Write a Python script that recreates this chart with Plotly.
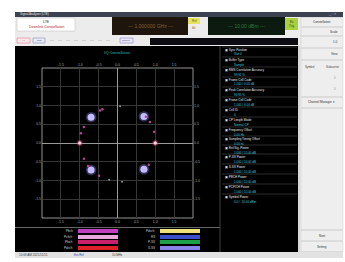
import plotly.graph_objects as go

W, H = 345, 262

# ---------------- data ----------------
qpsk_i = [-0.70, 0.70, -0.70, 0.70]
qpsk_q = [0.69, 0.71, -0.72, -0.70]
bpsk_i = [-1.00, 1.00]
bpsk_q = [0.00, 0.00]
ring_i = [-0.46, -0.40, 0.86, 0.97, -0.89, -0.97, -0.89, -0.78, -0.49, 0.83, 0.75]
ring_q = [0.87, 0.90, 0.56, 0.30, 0.43, 0.26, -0.42, -0.61, -0.87, -0.58, 0.70]
gray_i = [0.07, -0.22, 0.12]
gray_q = [0.98, -0.98, -1.03]
tick_vals = [-1.5, -1.0, -0.5, 0.0, 0.5, 1.0, 1.5]
tick_text = ["-1.5", "-1.0", "-0.5", "0.0", "0.5", "1.0", "1.5"]

legend_left = ["Pbch", "Pcfich", "Phich", "Pdcch"]
legend_left_colors = ["#c040c0", "#e8a8dc", "#c8206a", "#e02028"]
legend_right = ["Pdsch", "RS", "P-SS", "S-SS"]
legend_right_colors = ["#f0e27a", "#3c50c8", "#1ea048", "#8a84e8"]

info_labels = ["Sync Position", "Buffer Type", "RMS Correlation Accuracy",
               "Frame Cell Code", "Peak Correlation Accuracy", "Frame Cell Code",
               "Cell ID", "CP Length Mode", "Frequency Offset",
               "Sampling Timing Offset", "Ref.Sig. Power", "P-SS Power",
               "S-SS Power", "PBCH Power", "PCFICH Power", "Symbol Power"]
info_values = ["Slot 0", "Sample", "99.91 %", "1.000 / 0.00 dB", "99.95 %",
               "1.000 / 0.00 dB", "0", "Normal CP", "0.00 Hz", "0.00 ns",
               "1.000 / 10.00 dB", "1.000 / 10.00 dB", "1.000 / 10.00 dB",
               "1.000 / 10.00 dB", "1.000 / 10.00 dB", "0.0 / -10.00 dBm"]
info_y = [50, 60, 70, 80, 90, 100, 110, 120, 130, 139, 148, 157, 167, 177, 187, 197]

def px(x):
    return x / W

def py(y):
    return 1 - y / H

shapes = []
ann = []

def rect(x0, y0, x1, y1, fill, line=None, lw=0.6):
    shapes.append(dict(type="rect", xref="paper", yref="paper",
                       x0=px(x0), x1=px(x1), y0=py(y1), y1=py(y0),
                       fillcolor=fill, line=dict(color=line or fill, width=lw if line else 0),
                       layer="below"))

def hline(x0, x1, y, color, w=0.6):
    shapes.append(dict(type="line", xref="paper", yref="paper",
                       x0=px(x0), x1=px(x1), y0=py(y), y1=py(y),
                       line=dict(color=color, width=w), layer="below"))

def text(x, y, s, color="#000", size=4, anchor="left"):
    ann.append(dict(xref="paper", yref="paper", x=px(x), y=py(y), text=s,
                    showarrow=False, xanchor=anchor, yanchor="middle",
                    font=dict(size=size, color=color, family="Liberation Sans")))

# window frame
rect(15, 12, 343, 258, "#d8d8d8")
rect(15, 12, 343, 17, "#3c4250")
text(18, 14.5, "Signal Analyzer (LTE)", "#e0e0e0", 3)
text(338, 14.5, "_ □ ×", "#e0e0e0", 3, "right")
rect(15, 17, 300, 46, "#ececec")
# LTE box
rect(17, 18, 75, 31, "#ffffff", "#c8c8c8")
text(46, 22, "LTE", "#303030", 3.5, "center")
text(46, 27, "Downlink Constellation", "#c02030", 3.5, "center")
# orange display
rect(112, 17, 188, 35, "#1e160c")
text(150, 26, "‑‑‑ 1.000000 GHz ‑‑‑", "#8a6030", 5, "center")
rect(188, 18, 200, 24, "#e6e45c")
text(194, 21, "Ref", "#606010", 3, "center")
text(194, 28, "Att", "#a08040", 3, "center")
# green display
rect(208, 17, 285, 35, "#0c1a10")
text(246, 26, "‑‑‑ 10.00 dBm ‑‑‑", "#2e7a3a", 5, "center")
rect(285, 18, 298, 30, "#a8d040")
text(291.5, 22, "Ex", "#304010", 3, "center")
text(291.5, 26, "Trig", "#304010", 3, "center")
# button row
rect(17, 38, 30, 43, "#f8e8ea", "#e08090")
rect(33, 38, 45, 43, "#e8eaf6", "#8890c0")
text(23.5, 40.5, "All", "#c04050", 2.5, "center")
text(39, 40.5, "Sub", "#404880", 2.5, "center")
for xx in range(50, 110, 8):
    hline(xx, xx + 4, 40.5, "#c0c0c0", 0.6)
rect(120, 38, 133, 43, "#e8e6fa", "#9088d0")
text(126.5, 40.5, "Marker", "#504890", 2.5, "center")
rect(150, 38, 298, 45, "#0c0c12")

# right sidebar
rect(300, 17, 343, 252, "#e6e6e6")
side = [(17, 27, "Constellation", "c"), (27, 36, "Scale", "r"), (36, 48, "1.0", "r"),
        (48, 60, "View", "r"), (60, 97, "", "c"), (97, 108, "Channel Manager ▾", "c"),
        (108, 230, "", "c"), (230, 241, "Next", "c"), (241, 252, "Setting", "c")]
for (a, b, s, al) in side:
    rect(301, a + 0.5, 343, b - 0.5, "#eeeeee", "#c8c8c8", 0.4)
    if s:
        if al == "r":
            text(340, (a + b) / 2, s, "#303030", 3, "right")
        else:
            text(321.5, (a + b) / 2, s, "#303030", 3, "center")
text(303, 67, "Symbol", "#404040", 2.8, "left")
text(341, 67, "Subcarrier", "#404040", 2.8, "right")
text(338, 78, "0", "#909090", 2.8, "right")
text(338, 89, "0", "#909090", 2.8, "right")

# black measurement area
rect(15, 46, 298, 252, "#000000")
shapes.append(dict(type="line", xref="paper", yref="paper", x0=px(220), x1=px(220),
                   y0=py(252), y1=py(46), line=dict(color="#505050", width=0.8)))
hline(15, 220, 227.5, "#808080", 0.8)
text(117, 53, "I/Q Constellation", "#30b8b8", 3.5, "center")

# info list
for lab, val, yy in zip(info_labels, info_values, info_y):
    hline(222, 297, yy - 3, "#5a5a5a", 0.5)
    text(223, yy, "▣ " + lab, "#e8e8e8", 3, "left")
    text(232, yy + 4.5, val, "#40c8d0", 3, "left")

# legend rows
rows_y = [231, 237, 242, 248]
for lab, col, yy in zip(legend_left, legend_left_colors, rows_y):
    rect(78, yy - 2, 118, yy + 2, col)
    text(75, yy, lab, "#d0d0d0", 3, "right")
for lab, col, yy in zip(legend_right, legend_right_colors, rows_y):
    rect(160, yy - 2, 200, yy + 2, col)
    text(157, yy, lab, "#d0d0d0", 3, "right")

# status bar
rect(15, 252, 343, 258, "#e2e2e2")
text(17, 255, "10:09 AM 2021/11/15", "#404040", 3)
text(72, 255, "Ext.Ref", "#3050c0", 3)
text(110, 255, "10 MHz", "#404040", 3)

# plot frame
fx0, fx1, fy0, fy1 = 42, 193, 68, 218
rect(fx0, fy0, fx1, fy1, "rgba(0,0,0,0)", "#b8b8b8", 0.8)

# ---------------- traces ----------------
traces = []
traces.append(go.Scatter(x=qpsk_i, y=qpsk_q, mode="markers",
                         marker=dict(size=10.5, color="rgba(150,140,255,0.35)", line=dict(width=0)),
                         hoverinfo="skip"))
traces.append(go.Scatter(x=qpsk_i, y=qpsk_q, mode="markers",
                         marker=dict(size=7, color="#c4bcff", line=dict(width=0)), hoverinfo="skip"))
traces.append(go.Scatter(x=bpsk_i, y=bpsk_q, mode="markers",
                         marker=dict(size=6, color="rgba(230,60,110,0.45)", line=dict(width=0)),
                         hoverinfo="skip"))
traces.append(go.Scatter(x=bpsk_i, y=bpsk_q, mode="markers",
                         marker=dict(size=3.5, color="#ffd0e4", line=dict(width=0)), hoverinfo="skip"))
traces.append(go.Scatter(x=ring_i, y=ring_q, mode="markers",
                         marker=dict(size=2.5, color="#b04890", line=dict(width=0)), hoverinfo="skip"))
traces.append(go.Scatter(x=gray_i, y=gray_q, mode="markers",
                         marker=dict(size=2, color="#909090", line=dict(width=0)), hoverinfo="skip"))
traces.append(go.Scatter(x=[0], y=[0], xaxis="x2", yaxis="y2", mode="markers",
                         marker=dict(size=1, color="rgba(0,0,0,0)"), hoverinfo="skip"))

fig = go.Figure(traces)

axis_common = dict(range=[-2, 2], tickvals=tick_vals, ticktext=tick_text,
                   tickfont=dict(size=3.5, color="#a0a0a0", family="Liberation Sans"),
                   showline=False, ticks="", fixedrange=True)

fig.update_layout(
    width=W, height=H, margin=dict(l=0, r=0, t=0, b=0),
    paper_bgcolor="#ffffff", plot_bgcolor="rgba(0,0,0,0)",
    showlegend=False, shapes=shapes, annotations=ann,
    xaxis=dict(domain=[px(fx0), px(fx1)], showgrid=True, gridcolor="#363636", gridwidth=0.6,
               zeroline=True, zerolinecolor="#9a9a9a", zerolinewidth=0.8, anchor="y", **axis_common),
    yaxis=dict(domain=[py(fy1), py(fy0)], showgrid=True, gridcolor="#363636", gridwidth=0.6,
               zeroline=True, zerolinecolor="#9a9a9a", zerolinewidth=0.8, anchor="x", **axis_common),
    xaxis2=dict(overlaying="x", side="top", anchor="y2", showgrid=False, zeroline=False, **axis_common),
    yaxis2=dict(overlaying="y", side="right", anchor="x2", showgrid=False, zeroline=False, **axis_common),
)

fig.write_html("out.html", config={"displayModeBar": False},
               post_script="document.body.style.margin='0';document.body.style.overflow='hidden';")
